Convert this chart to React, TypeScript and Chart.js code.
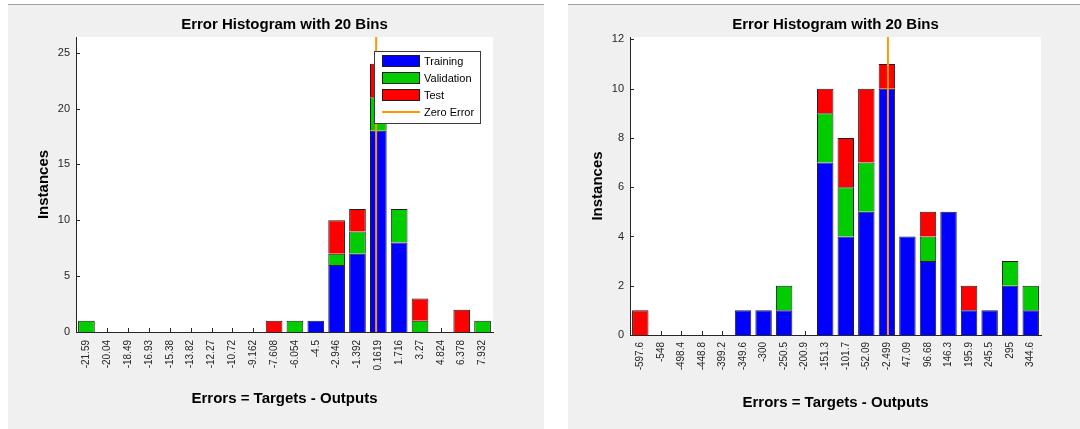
import React, { useEffect, useRef } from "react";
import { Chart, registerables } from "chart.js";

Chart.register(...registerables);

// ---------- Data ----------
const leftBins = [
  "-21.59", "-20.04", "-18.49", "-16.93", "-15.38", "-13.82", "-12.27", "-10.72", "-9.162", "-7.608",
  "-6.054", "-4.5", "-2.946", "-1.392", "0.1619", "1.716", "3.27", "4.824", "6.378", "7.932",
];
const leftTraining = [0, 0, 0, 0, 0, 0, 0, 0, 0, 0, 0, 1, 6, 7, 18, 8, 0, 0, 0, 0];
const leftValidation = [1, 0, 0, 0, 0, 0, 0, 0, 0, 0, 1, 0, 1, 2, 3, 3, 1, 0, 0, 1];
const leftTest = [0, 0, 0, 0, 0, 0, 0, 0, 0, 1, 0, 0, 3, 2, 3, 0, 2, 0, 2, 0];
const leftYTicks = [0, 5, 10, 15, 20, 25];
const leftYMax = 26.4;

const rightBins = [
  "-597.6", "-548", "-498.4", "-448.8", "-399.2", "-349.6", "-300", "-250.5", "-200.9", "-151.3",
  "-101.7", "-52.09", "-2.499", "47.09", "96.68", "146.3", "195.9", "245.5", "295", "344.6",
];
const rightTraining = [0, 0, 0, 0, 0, 1, 1, 1, 0, 7, 4, 5, 10, 4, 3, 5, 1, 1, 2, 1];
const rightValidation = [0, 0, 0, 0, 0, 0, 0, 1, 0, 2, 2, 2, 0, 0, 1, 0, 0, 0, 1, 1];
const rightTest = [1, 0, 0, 0, 0, 0, 0, 0, 0, 1, 2, 3, 1, 0, 1, 0, 1, 0, 0, 0];
const rightYTicks = [0, 2, 4, 6, 8, 10, 12];
const rightYMax = 12.1;

const zeroError = 0;
const chartTitle = "Error Histogram with 20 Bins";
const xTitle = "Errors = Targets - Outputs";
const yTitle = "Instances";
const seriesNames = ["Training", "Validation", "Test", "Zero Error"];

// ---------- Styles ----------
const FONT = "'Liberation Sans', Arial, Helvetica, sans-serif";
const BLUE = "#0000ff";
const GREEN = "#00cc00";
const RED = "#ff0000";
const ORANGE = "#ff9900";
const EDGE = "#1e1e1e";
const AXIS = "#262626";

type Geom = {
  width: number;
  height: number;
  yAxisWidth: number;
  xAxisHeight: number;
  padRight: number;
  titleTop: number;
  titleBottom: number;
  yTitlePad: number;
  xTitlePad: number;
  xLabelPad: number;
};

type Props = {
  bins: string[];
  training: number[];
  validation: number[];
  test: number[];
  yMax: number;
  yTicks: number[];
  showLegend: boolean;
  geom: Geom;
};

function ErrorHistogram(props: Props) {
  const ref = useRef<HTMLCanvasElement>(null);

  useEffect(() => {
    const { bins, training, validation, test, yMax, yTicks, showLegend, geom } = props;
    const centers = bins.map(Number);
    const n = centers.length;
    const binWidth = (centers[n - 1] - centers[0]) / (n - 1);
    const zMin = centers[0] - binWidth / 2;
    const zMax = centers[n - 1] + binWidth / 2;

    const plotBackground = {
      id: "plotBackground",
      beforeDraw(chart: any) {
        const ctx = chart.ctx;
        const a = chart.chartArea;
        ctx.save();
        ctx.fillStyle = "#ffffff";
        ctx.fillRect(a.left, a.top, a.right - a.left, a.bottom - a.top);
        ctx.restore();
      },
    };

    const inwardTicks = {
      id: "inwardTicks",
      beforeDatasetsDraw(chart: any) {
        const ctx = chart.ctx;
        const a = chart.chartArea;
        const xs = chart.scales.x;
        const ys = chart.scales.y;
        ctx.save();
        ctx.strokeStyle = AXIS;
        ctx.lineWidth = 1;
        ctx.beginPath();
        xs.ticks.forEach((_: any, i: number) => {
          const x = Math.round(xs.getPixelForTick(i)) + 0.5;
          ctx.moveTo(x, a.bottom);
          ctx.lineTo(x, a.bottom - 4);
        });
        ys.ticks.forEach((t: any) => {
          const y = Math.round(ys.getPixelForValue(t.value)) + 0.5;
          ctx.moveTo(a.left, y);
          ctx.lineTo(a.left + 4, y);
        });
        ctx.stroke();
        ctx.restore();
      },
    };

    const boxLegend = {
      id: "boxLegend",
      afterDraw(chart: any) {
        if (!showLegend) return;
        const ctx = chart.ctx;
        const a = chart.chartArea;
        const w = 106;
        const h = 72;
        const x0 = Math.round(a.right - 13 - w);
        const y0 = Math.round(a.top + 14);
        ctx.save();
        ctx.fillStyle = "#ffffff";
        ctx.fillRect(x0, y0, w, h);
        ctx.strokeStyle = "#3c3c3c";
        ctx.lineWidth = 1;
        ctx.strokeRect(x0 + 0.5, y0 + 0.5, w, h);
        chart.data.datasets.forEach((ds: any, i: number) => {
          const rowY = y0 + 4 + i * 17;
          const sx = x0 + 8;
          if (ds.type === "line") {
            ctx.strokeStyle = ds.borderColor;
            ctx.lineWidth = 2;
            ctx.beginPath();
            ctx.moveTo(sx, rowY + 6);
            ctx.lineTo(sx + 38, rowY + 6);
            ctx.stroke();
          } else {
            ctx.fillStyle = ds.backgroundColor;
            ctx.fillRect(sx, rowY, 38, 12);
            ctx.strokeStyle = EDGE;
            ctx.lineWidth = 1;
            ctx.strokeRect(sx + 0.5, rowY + 0.5, 37, 11);
          }
          ctx.fillStyle = "#000000";
          ctx.font = `11px ${FONT}`;
          ctx.textBaseline = "middle";
          ctx.textAlign = "left";
          ctx.fillText(ds.label, sx + 42, rowY + 6.5);
        });
        ctx.restore();
      },
    };

    const barCommon = {
      borderColor: EDGE,
      borderWidth: { top: 1, left: 1, right: 1, bottom: 0 },
      borderSkipped: false,
      stack: "bars",
      grouped: false,
      barPercentage: 0.8,
      categoryPercentage: 1,
      xAxisID: "x",
      yAxisID: "y",
      order: 1,
    };

    const chart = new Chart(ref.current as HTMLCanvasElement, {
      type: "bar",
      data: {
        labels: bins,
        datasets: [
          { label: seriesNames[0], data: training, backgroundColor: BLUE, ...barCommon } as any,
          { label: seriesNames[1], data: validation, backgroundColor: GREEN, ...barCommon } as any,
          { label: seriesNames[2], data: test, backgroundColor: RED, ...barCommon } as any,
          {
            type: "line",
            label: seriesNames[3],
            data: [
              { x: zeroError, y: 0 },
              { x: zeroError, y: yMax },
            ],
            xAxisID: "xz",
            yAxisID: "y",
            borderColor: ORANGE,
            backgroundColor: ORANGE,
            borderWidth: 2,
            pointRadius: 0,
            fill: false,
            stack: "zero",
            order: 0,
          } as any,
        ],
      },
      options: {
        responsive: false,
        animation: false,
        events: [],
        layout: { padding: { left: 0, right: geom.padRight, top: 0, bottom: 0 } },
        plugins: {
          legend: { display: false },
          tooltip: { enabled: false },
          title: {
            display: true,
            text: chartTitle,
            color: "#000000",
            fullSize: false,
            font: { family: FONT, size: 15, weight: "bold" },
            padding: { top: geom.titleTop, bottom: geom.titleBottom },
          },
        },
        scales: {
          x: {
            type: "category",
            stacked: true,
            offset: true,
            grid: { display: false, drawTicks: false },
            border: { display: true, color: AXIS, width: 1 },
            ticks: {
              autoSkip: false,
              maxRotation: 90,
              minRotation: 90,
              padding: geom.xLabelPad,
              color: AXIS,
              font: { family: FONT, size: 10 },
            },
            title: {
              display: true,
              text: xTitle,
              color: "#000000",
              font: { family: FONT, size: 15, weight: "bold" },
              padding: { top: 0, bottom: geom.xTitlePad },
            },
            afterFit: (s: any) => {
              s.height = geom.xAxisHeight;
            },
          },
          xz: {
            type: "linear",
            display: false,
            offset: false,
            grid: { offset: false },
            min: zMin,
            max: zMax,
          },
          y: {
            type: "linear",
            stacked: true,
            min: 0,
            max: yMax,
            grid: { display: false, drawTicks: false },
            border: { display: true, color: AXIS, width: 1 },
            ticks: {
              padding: 6,
              color: AXIS,
              font: { family: FONT, size: 11 },
            },
            afterBuildTicks: (s: any) => {
              s.ticks = yTicks.map((v) => ({ value: v }));
            },
            title: {
              display: true,
              text: yTitle,
              color: "#000000",
              font: { family: FONT, size: 15, weight: "bold" },
              padding: { top: geom.yTitlePad, bottom: 0 },
            },
            afterFit: (s: any) => {
              s.width = geom.yAxisWidth;
            },
          },
        },
      } as any,
      plugins: [plotBackground, inwardTicks, boxLegend],
    });

    return () => chart.destroy();
  }, []);

  return (
    <canvas
      ref={ref}
      width={props.geom.width}
      height={props.geom.height}
      style={{ display: "block", width: props.geom.width, height: props.geom.height }}
    />
  );
}

const leftGeom: Geom = {
  width: 536,
  height: 424,
  yAxisWidth: 68,
  xAxisHeight: 97,
  padRight: 51,
  titleTop: 11,
  titleBottom: 3,
  yTitlePad: 27,
  xTitlePad: 21,
  xLabelPad: 8,
};

const rightGeom: Geom = {
  width: 512,
  height: 424,
  yAxisWidth: 62,
  xAxisHeight: 94,
  padRight: 39,
  titleTop: 11,
  titleBottom: 3,
  yTitlePad: 21,
  xTitlePad: 17,
  xLabelPad: 7,
};

const panelStyle = (left: number, width: number): React.CSSProperties => ({
  position: "absolute",
  left,
  top: 4,
  width,
  height: 425,
  background: "#f0f0f0",
  borderTop: "1px solid #a0a0a0",
  boxSizing: "border-box",
});

export default function App() {
  return (
    <div
      style={{
        position: "absolute",
        left: 0,
        top: 0,
        width: 1080,
        height: 429,
        background: "#ffffff",
        overflow: "hidden",
      }}
    >
      <div style={panelStyle(8, 536)}>
        <ErrorHistogram
          bins={leftBins}
          training={leftTraining}
          validation={leftValidation}
          test={leftTest}
          yMax={leftYMax}
          yTicks={leftYTicks}
          showLegend={true}
          geom={leftGeom}
        />
      </div>
      <div style={panelStyle(568, 512)}>
        <ErrorHistogram
          bins={rightBins}
          training={rightTraining}
          validation={rightValidation}
          test={rightTest}
          yMax={rightYMax}
          yTicks={rightYTicks}
          showLegend={false}
          geom={rightGeom}
        />
      </div>
    </div>
  );
}
